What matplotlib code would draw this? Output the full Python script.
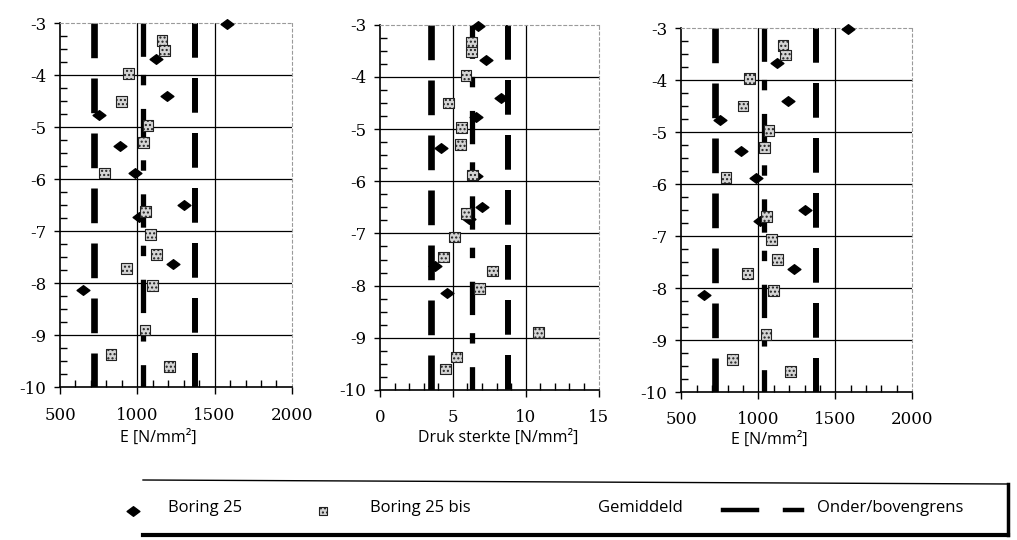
import matplotlib
matplotlib.use("Agg")
import matplotlib.pyplot as plt
from matplotlib.path import Path
from matplotlib.ticker import MultipleLocator

plt.rcParams['lines.scale_dashes'] = False

# depth (m) of the samples
depth_b25 = [-3.02, -3.68, -4.40, -4.77, -5.37, -5.89, -6.50, -6.72, -7.63, -8.14]
depth_bis = [-3.33, -3.52, -3.97, -4.50, -4.97, -5.30, -5.88, -6.62, -7.07,
             -7.45, -7.72, -8.05, -8.90, -9.37, -9.60]

# Boring 25
e_b25 = [1580, 1120, 1190, 750, 890, 985, 1300, 1010, 1230, 650]
druk_b25 = [6.7, 7.3, 8.3, 6.6, 4.2, 6.6, 7.0, 6.1, 3.8, 4.6]

# Boring 25 bis
e_bis = [1160, 1175, 945, 900, 1070, 1040, 790, 1055, 1085, 1125, 930, 1100, 1050, 830, 1210]
druk_bis = [6.3, 6.3, 5.9, 4.7, 5.6, 5.5, 6.35, 5.9, 5.1, 4.35, 7.7, 6.85, 10.9, 5.25, 4.5]

# lower bound, mean, upper bound
e_stats = [720, 1040, 1375]
druk_stats = [3.5, 6.3, 8.8]

e_ticks = [500, 1000, 1500, 2000]
druk_ticks = [0, 5, 10, 15]
depth_ticks = [-3, -4, -5, -6, -7, -8, -9, -10]

diamond = Path([(-1, 0), (0, 0.75), (1, 0), (0, -0.75), (-1, 0)],
               [Path.MOVETO, Path.LINETO, Path.LINETO, Path.LINETO, Path.CLOSEPOLY])

serif = 'DejaVu Serif'
sans = 'Open Sans'

bound_dash = (25, 14.6)
mean_dash = (24, 13, 7.5, 17)


def draw_panel(ax, xb25, xbis, stats, ticks, minor):
    lo, mean, hi = stats
    for x, lw in [(lo, 4.8), (hi, 4.3)]:
        ax.plot([x, x], [-3, -10], color='black', lw=lw, dashes=bound_dash, zorder=2)
    ax.plot([mean, mean], [-3, -10], color='black', lw=3.8, dashes=mean_dash, zorder=2)

    ax.scatter(xb25, depth_b25, marker=diamond, s=85, color='black', zorder=4,
               clip_on=False)
    ax.scatter(xbis, depth_bis, marker='s', s=60, facecolor='#d4d4d4',
               edgecolor='#222222', linewidth=0.8, hatch='....', zorder=5, clip_on=False)

    ax.set_xlim(ticks[0], ticks[-1])
    ax.set_ylim(-10, -3)
    for y in depth_ticks[1:-1]:
        ax.axhline(y, color='black', lw=0.9, zorder=1)
    for x in ticks[1:-1]:
        ax.axvline(x, color='black', lw=0.9, zorder=1)

    ax.set_xticks(ticks)
    ax.set_xticklabels([str(t) for t in ticks], fontfamily=serif, fontsize=12)
    ax.set_yticks(depth_ticks)
    ax.set_yticklabels([str(t) for t in depth_ticks], fontfamily=serif, fontsize=12)
    ax.xaxis.set_minor_locator(MultipleLocator(minor))
    ax.yaxis.set_minor_locator(MultipleLocator(0.25))
    ax.tick_params(axis='x', which='major', direction='out', length=5, width=1, pad=9)
    ax.tick_params(axis='y', which='major', direction='out', length=4, width=1, pad=6)
    ax.tick_params(which='minor', direction='in', length=5, width=1)

    for side in ['top', 'right']:
        ax.spines[side].set_color('#9a9a9a')
        ax.spines[side].set_linestyle((0, (2, 2)))
        ax.spines[side].set_linewidth(0.8)
    for side in ['left', 'bottom']:
        ax.spines[side].set_linewidth(1.2)


fig = plt.figure(figsize=(10.17, 5.4), dpi=100)

ax1 = fig.add_axes([0.059, 0.283, 0.228, 0.674])
ax2 = fig.add_axes([0.3736, 0.278, 0.215, 0.676])
ax3 = fig.add_axes([0.670, 0.274, 0.227, 0.674])

draw_panel(ax1, e_b25, e_bis, e_stats, e_ticks, 100)
draw_panel(ax2, druk_b25, druk_bis, druk_stats, druk_ticks, 1)
draw_panel(ax3, e_b25, e_bis, e_stats, e_ticks, 100)

fig.text(158 / 1017, 1 - 438 / 540, 'E [N/mm²]', fontfamily=sans, fontsize=11.5,
         ha='center', va='center')
fig.text(498 / 1017, 1 - 438 / 540, 'Druk sterkte [N/mm²]', fontfamily=sans, fontsize=11.5,
         ha='center', va='center')
fig.text(769 / 1017, 1 - 440 / 540, 'E [N/mm²]', fontfamily=sans, fontsize=11.5,
         ha='center', va='center')

# legend box, drawn in pixel space
lg = fig.add_axes([0, 0, 1, 1], zorder=-1)
lg.set_xlim(0, 1017)
lg.set_ylim(540, 0)
lg.axis('off')
lg.plot([143, 1008], [480, 484], color='black', lw=1.0)
lg.plot([143, 1008], [535, 535], color='black', lw=3.0)
lg.plot([1008, 1008], [484, 535], color='black', lw=2.5)

ly = 508
lg.scatter([133], [ly + 3], marker=diamond, s=85, color='black')
lg.text(168, ly, 'Boring 25', fontfamily=sans, fontsize=12, va='center')
lg.scatter([323], [ly + 3], marker='s', s=30, facecolor='#d4d4d4',
           edgecolor='#222222', linewidth=0.8, hatch='....')
lg.text(370, ly, 'Boring 25 bis', fontfamily=sans, fontsize=12, va='center')
lg.text(598, ly, 'Gemiddeld', fontfamily=sans, fontsize=12, va='center')
lg.plot([723, 757], [ly + 2, ly + 2], color='black', lw=3.2)
lg.plot([785, 802], [ly + 2, ly + 2], color='black', lw=3.2)
lg.text(817, ly, 'Onder/bovengrens', fontfamily=sans, fontsize=12, va='center')

fig.savefig('out.png', dpi=100)
